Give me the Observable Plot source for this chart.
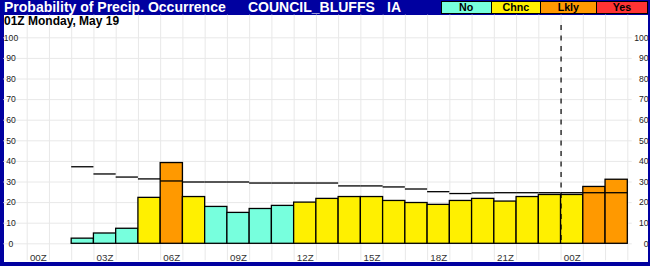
<!DOCTYPE html>
<html>
<head>
<meta charset="utf-8">
<script src="https://cdn.jsdelivr.net/npm/d3@7"></script>
<script src="https://cdn.jsdelivr.net/npm/@observablehq/plot@0.6"></script>
<style>
  html, body { margin: 0; padding: 0; background: #fff; }
  #wrap { position: relative; width: 650px; height: 266px; background: #0000A0; overflow: hidden; font-family: "Liberation Sans", Arial, sans-serif; }
  .hdr { position: absolute; top: 0px; color: #fff; font-weight: bold; font-size: 14px; line-height: 14px; white-space: nowrap; }
  #plot { position: absolute; left: 4px; top: 15px; width: 644px; height: 247px; background: #fff; }
  #plot svg { display: block; }
  #sub { position: absolute; left: 4px; top: 15px; font-weight: bold; font-size: 12px; line-height: 12px; color: #000; white-space: nowrap; }
  .leg { position: absolute; top: 1px; height: 11px; border: 1px solid #000; box-sizing: content-box; font-weight: bold; font-size: 10.7px; line-height: 11px; text-align: center; color: #000; }
</style>
</head>
<body>
<div id="wrap">
  <div class="hdr" style="left:4px">Probability of Precip. Occurrence</div>
  <div class="hdr" style="left:248px">COUNCIL_BLUFFS</div>
  <div class="hdr" style="left:387px">IA</div>
  <div id="legend"></div>
  <div id="plot"></div>
  <div id="sub">01Z Monday, May 19</div>
</div>
<script>
// Hour cells (index 0 = 00Z)
const hourLabels = ["00Z","01Z","02Z","03Z","04Z","05Z","06Z","07Z","08Z","09Z","10Z","11Z","12Z","13Z","14Z","15Z","16Z","17Z","18Z","19Z","20Z","21Z","22Z","23Z","00Z","01Z","02Z"];
// Probability of precip occurrence (%)
const pop = [null,null,2.5,5,7.3,22.3,39.2,22.7,17.9,15,16.9,18.4,20,21.8,22.7,22.7,20.8,19.8,18.9,20.8,21.8,20.5,22.7,23.7,23.7,27.6,31.1];
// Category of each bar
const popCategory = [null,null,"No","No","No","Chnc","Lkly","Chnc","No","No","No","No","Chnc","Chnc","Chnc","Chnc","Chnc","Chnc","Chnc","Chnc","Chnc","Chnc","Chnc","Chnc","Chnc","Lkly","Lkly"];
// Climatology line (%)
const climo = [null,null,37.4,33.9,32.4,31.5,30.5,30,30,30,29.5,29.5,29.5,29.5,28.1,28.1,27.6,26.6,25.3,24.4,24.7,24.8,24.8,24.8,24.8,24.8,24.8];
// Legend categories & colors
const categories = ["No","Chnc","Lkly","Yes"];
const catColors = ["#77FFDD","#FFF000","#FF9900","#FF3333"];
// Axis ticks
const yTicks = [0,10,20,30,40,50,60,70,80,90,100];
const xTickIdx = [0,3,6,9,12,15,18,21,24];
const nowIdx = 24;

// Legend (header)
const legendPos = [[440.7,49],[490.7,48.3],[540,54.7],[595.7,50.6]];
const legendEl = document.getElementById("legend");
categories.forEach((c, i) => {
  const d = document.createElement("div");
  d.className = "leg";
  d.style.left = legendPos[i][0] + "px";
  d.style.width = legendPos[i][1] + "px";
  d.style.background = catColors[i];
  d.textContent = c;
  legendEl.appendChild(d);
});

const data = hourLabels.map((h, i) => ({i, h, pop: pop[i], cat: popCategory[i], climo: climo[i]}));
const bars = data.filter(d => d.pop != null);
const lines = data.filter(d => d.climo != null);
const cells = d3.range(0, hourLabels.length + 1);

const chart = Plot.plot({
  width: 644,
  height: 247,
  marginLeft: 22.7,
  marginRight: 20.7,
  marginTop: 22.3,
  marginBottom: 18.7,
  x: {domain: [0, hourLabels.length], axis: null},
  y: {domain: [0, 100], axis: null},
  color: {domain: categories, range: catColors},
  style: {background: "white", fontFamily: "'Liberation Sans', Arial, sans-serif", overflow: "visible"},
  marks: [
    Plot.ruleY(yTicks, {y: d => d, x1: -1.05, x2: 27.2, stroke: "#e8e8e8", strokeWidth: 1}),
    Plot.ruleX(cells, {x: d => d, y1: -8.2, y2: 111, stroke: "#e8e8e8", strokeWidth: 1}),
    Plot.rect(bars, {x1: "i", x2: d => d.i + 1, y1: 0, y2: "pop", fill: "cat", stroke: "#000", strokeWidth: 1.3}),
    Plot.ruleY(lines, {x1: "i", x2: d => d.i + 1, y: "climo", stroke: "#000", strokeWidth: 1.3}),
    Plot.ruleX([nowIdx], {x: d => d, y1: 106, y2: 0, stroke: "#000", strokeWidth: 1.2, strokeDasharray: "5,5.5"}),
    Plot.text(yTicks, {x: 0, y: d => d, text: d => String(d), dx: -16.2, textAnchor: "middle", fontSize: 8.6, fill: "#222"}),
    Plot.text(yTicks, {x: hourLabels.length, y: d => d, text: d => String(d), dx: 20.7, textAnchor: "end", fontSize: 8.6, fill: "#222"}),
    Plot.text(xTickIdx, {x: d => d + 0.5, y: 0, text: d => hourLabels[d], dy: 13.6, textAnchor: "middle", fontSize: 9.8, fill: "#333"})
  ]
});
document.getElementById("plot").appendChild(chart);
</script>
</body>
</html>
